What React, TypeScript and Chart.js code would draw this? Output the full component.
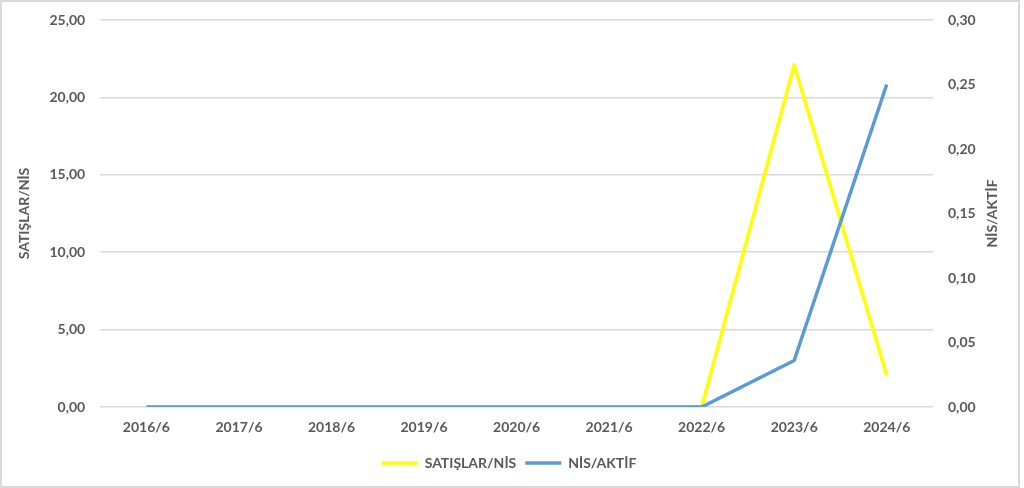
import { useEffect, useRef } from "react"
import { Chart, registerables } from "chart.js"

Chart.register(...registerables)

const categories = ["2016/6", "2017/6", "2018/6", "2019/6", "2020/6", "2021/6", "2022/6", "2023/6", "2024/6"]
const satislarNis = [0, 0, 0, 0, 0, 0, 0, 22.1, 2.05]
const nisAktif = [0, 0, 0, 0, 0, 0, 0, 0.036, 0.25]

const LABEL_COLOR = "#595959"
const GRID_COLOR = "#d9d9d9"
const FONT = "Lato"

const fmt = (v: number | string) => Number(v).toFixed(2).replace(".", ",")

// right axis title in Excel reads bottom-to-top, Chart.js rotates it the other way
const rightTitlePlugin = {
  id: "rightTitle",
  afterDraw(chart: Chart) {
    const s = chart.scales.y1
    if (!s) return
    const ctx = chart.ctx
    ctx.save()
    ctx.translate(s.right - 16, (chart.chartArea.top + chart.chartArea.bottom) / 2)
    ctx.rotate(-Math.PI / 2)
    ctx.fillStyle = LABEL_COLOR
    ctx.font = `bold 14px ${FONT}`
    ctx.textAlign = "center"
    ctx.textBaseline = "middle"
    ctx.fillText("NİS/AKTİF", 0, 0)
    ctx.restore()
  },
}

export default function App() {
  const chartRef = useRef<HTMLCanvasElement>(null)
  const chartInstance = useRef<Chart | null>(null)

  useEffect(() => {
    document.body.style.margin = "0"
    if (!chartRef.current) return
    if (chartInstance.current) chartInstance.current.destroy()

    const ctx = chartRef.current.getContext("2d")
    if (!ctx) return

    const tickFont = { family: FONT, size: 14, weight: "bold" as const }

    chartInstance.current = new Chart(ctx, {
      type: "line",
      data: {
        labels: categories,
        datasets: [
          {
            label: "SATIŞLAR/NİS",
            data: satislarNis,
            borderColor: "#ffff00",
            backgroundColor: "#ffff00",
            borderWidth: 3.5,
            borderJoinStyle: "round",
            pointRadius: 0,
            tension: 0,
            yAxisID: "y",
            order: 1,
          },
          {
            label: "NİS/AKTİF",
            data: nisAktif,
            borderColor: "#5b9bd5",
            backgroundColor: "#5b9bd5",
            borderWidth: 3.5,
            borderJoinStyle: "round",
            pointRadius: 0,
            tension: 0,
            yAxisID: "y1",
            order: 0,
          },
        ],
      },
      options: {
        animation: false,
        responsive: true,
        maintainAspectRatio: false,
        layout: { padding: { top: 18, left: 8, right: 10, bottom: 6 } },
        plugins: {
          tooltip: { enabled: false },
          legend: {
            position: "bottom",
            labels: {
              usePointStyle: true,
              pointStyle: "line",
              pointStyleWidth: 36,
              boxHeight: 4,
              padding: 9,
              color: LABEL_COLOR,
              font: tickFont,
              sort: (a, b) => (a.datasetIndex ?? 0) - (b.datasetIndex ?? 0),
            },
          },
        },
        scales: {
          x: {
            offset: true,
            grid: { display: false, drawTicks: false },
            border: { display: false },
            ticks: { color: LABEL_COLOR, font: tickFont, padding: 11.6, maxRotation: 0 },
          },
          y: {
            position: "left",
            min: 0,
            max: 25,
            grid: { color: GRID_COLOR, lineWidth: 1.5, drawTicks: false },
            border: { display: false },
            ticks: { stepSize: 5, color: LABEL_COLOR, font: tickFont, padding: 15, callback: (v) => fmt(v) },
            title: { display: true, text: "SATIŞLAR/NİS", color: LABEL_COLOR, font: tickFont, padding: { top: 5.6, bottom: 2 } },
            afterFit: (s) => {
              s.paddingTop = 0
              s.paddingBottom = 0
            },
          },
          y1: {
            position: "right",
            min: 0,
            max: 0.3,
            grid: { drawOnChartArea: false, drawTicks: false },
            border: { display: false },
            ticks: { stepSize: 0.05, color: LABEL_COLOR, font: tickFont, padding: 15, callback: (v) => fmt(v) },
            afterFit: (s) => {
              s.width = 75
              s.paddingTop = 0
              s.paddingBottom = 0
            },
          },
        },
      },
      plugins: [rightTitlePlugin],
    })

    return () => {
      if (chartInstance.current) {
        chartInstance.current.destroy()
        chartInstance.current = null
      }
    }
  }, [])

  return (
    <div
      style={{
        width: 1020,
        height: 488,
        border: `2px solid ${GRID_COLOR}`,
        boxSizing: "border-box",
        background: "#fff",
      }}
    >
      <div style={{ position: "relative", width: "100%", height: "100%" }}>
        <canvas ref={chartRef} />
      </div>
    </div>
  )
}
